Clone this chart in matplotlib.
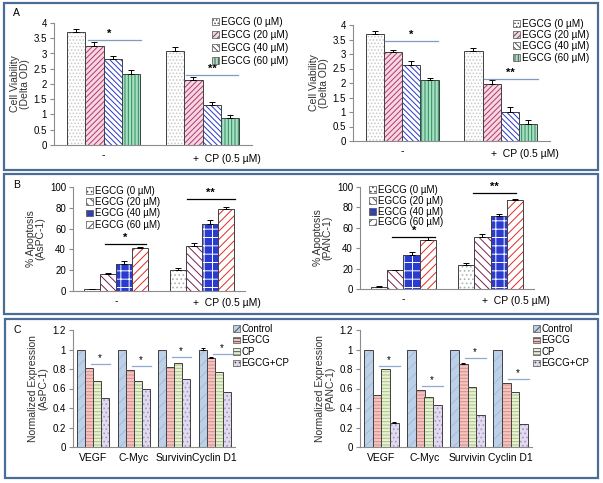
import numpy as np
import matplotlib
matplotlib.use('Agg')
import matplotlib.pyplot as plt
from matplotlib.patches import Patch, Rectangle
from matplotlib.transforms import blended_transform_factory

plt.rcParams['font.family'] = ['Liberation Sans', 'DejaVu Sans']
plt.rcParams['hatch.linewidth'] = 0.7

W, H = 603, 483

# ---- data ----
egcg_labels = ['EGCG (0 µM)', 'EGCG (20 µM)', 'EGCG (40 µM)', 'EGCG (60 µM)']
groups_ab = ['-', '+  CP (0.5 µM)']

via_aspc = np.array([[3.70, 3.25, 2.83, 2.33],
                     [3.08, 2.12, 1.30, 0.90]])
via_aspc_err = np.array([[0.10, 0.12, 0.10, 0.13],
                         [0.13, 0.10, 0.12, 0.08]])
via_panc = np.array([[3.70, 3.08, 2.63, 2.10],
                     [3.10, 1.95, 1.00, 0.60]])
via_panc_err = np.array([[0.10, 0.06, 0.12, 0.07],
                         [0.10, 0.14, 0.16, 0.13]])

apo_aspc = np.array([[2.0, 16.0, 26.0, 41.5],
                     [20.5, 43.0, 64.0, 79.0]])
apo_aspc_err = np.array([[0.4, 1.0, 3.0, 1.0],
                         [1.8, 3.0, 4.0, 1.8]])
apo_panc = np.array([[2.0, 18.5, 33.0, 48.0],
                     [24.0, 51.0, 72.0, 87.0]])
apo_panc_err = np.array([[0.5, 0.6, 2.8, 2.5],
                         [1.2, 3.0, 2.0, 1.5]])

genes = ['VEGF', 'C-Myc', 'Survivin', 'Cyclin D1']
expr_labels = ['Control', 'EGCG', 'CP', 'EGCG+CP']
expr_aspc = np.array([[1.0, 1.0, 1.0, 1.0],
                      [0.81, 0.79, 0.82, 0.91],
                      [0.68, 0.68, 0.86, 0.77],
                      [0.50, 0.59, 0.70, 0.56]])
expr_aspc_err = np.array([[0, 0, 0, 0.02],
                          [0, 0, 0, 0.01],
                          [0, 0, 0, 0],
                          [0, 0, 0, 0]])
expr_panc = np.array([[1.0, 1.0, 1.0, 1.0],
                      [0.53, 0.58, 0.85, 0.66],
                      [0.80, 0.51, 0.62, 0.56],
                      [0.25, 0.43, 0.33, 0.24]])
expr_panc_err = np.array([[0, 0, 0, 0],
                          [0, 0, 0.01, 0],
                          [0, 0, 0, 0],
                          [0.01, 0, 0, 0]])
sig_aspc = [0.85, 0.83, 0.92, 0.95]
sig_panc = [0.83, 0.63, 0.91, 0.70]

# face, hatch colour, hatch
style_a = [('white', '#c8c8c8', '.....'),
           ('#f6d6e2', '#b03a6a', '//////'),
           ('white', '#2838c8', '\\\\\\\\\\\\'),
           ('#a8e0c4', '#2a8a5a', '|||||')]
style_b = [('white', '#b0b0b0', '....'),
           ('white', '#7a2050', '\\\\\\\\'),
           ('#2a3cd0', 'white', '++'),
           ('white', '#e02828', '////')]
style_c = [('#bcd0e8', '#a4bcdc', '///'),
           ('#f4c4c0', '#d88c88', '-----'),
           ('#e8f0d6', '#a8c47c', '-----'),
           ('#e2daee', '#a898c8', '....')]


def make_ax(fig, l, r, t, b):
    return fig.add_axes([l / W, 1 - b / H, (r - l) / W, (b - t) / H])


def style_axis(ax):
    for s in ['top', 'right']:
        ax.spines[s].set_visible(False)
    for s in ['left', 'bottom']:
        ax.spines[s].set_color('#8c8c8c')
        ax.spines[s].set_linewidth(0.8)
    ax.tick_params(axis='y', labelsize=7, length=3, color='#8c8c8c', pad=2)
    ax.tick_params(axis='x', length=0, labelsize=7.5, pad=4)


def hbar(ax, x, h, w, st):
    fc, hc, hatch = st
    ax.bar(x, h, w, color=fc, edgecolor=hc, hatch=hatch, lw=0)
    ax.bar(x, h, w, fill=False, edgecolor='#404040', lw=0.7)


def legend(fig, ax, labels, styles, x, y, spacing, fs=7.2):
    hs = [Patch(facecolor=fc, edgecolor=hc, hatch=hatch, lw=0.5) for fc, hc, hatch in styles]
    lg = ax.legend(hs, labels, loc='upper left', bbox_to_anchor=(x / W, 1 - y / H),
                   bbox_transform=fig.transFigure, frameon=False, fontsize=fs,
                   handlelength=0.7, handleheight=0.7, handletextpad=0.2,
                   labelspacing=spacing, borderpad=0, borderaxespad=0)
    for p in lg.get_patches():
        p.set_edgecolor('#505050')


def dose_panel(fig, rect, vals, errs, styles, ylim, yticks, ylab, sigs, sigcolor, leg):
    ax = make_ax(fig, *rect)
    style_axis(ax)
    w = 0.185
    x0 = np.arange(2)
    for i in range(4):
        x = x0 + (i - 1.5) * w
        hbar(ax, x, vals[:, i], w, styles[i])
        ax.errorbar(x, vals[:, i], yerr=[np.zeros(2), errs[:, i]], fmt='none',
                    ecolor='black', elinewidth=0.7, capsize=2, capthick=0.7)
    ax.set_xlim(-0.5, 1.5)
    ax.set_ylim(*ylim)
    ax.set_yticks(yticks)
    ax.set_yticklabels([('%g' % v) for v in yticks])
    ax.set_xticks([0])
    ax.set_xticklabels([groups_ab[0]])
    tr = blended_transform_factory(ax.transData, ax.transAxes)
    ax.text(0.9, -0.07, groups_ab[1], transform=tr, fontsize=7.5, ha='left', va='top')
    ax.set_ylabel(ylab, fontsize=7.5, color='#303030', labelpad=3, linespacing=1.0)
    for x1, x2, y, txt, xs in sigs:
        ax.plot([x1, x2], [y, y], color=sigcolor, lw=0.9)
        ax.text(xs, y + (ylim[1] - ylim[0]) * 0.01, txt, ha='center', va='bottom',
                fontsize=8, fontweight='bold')
    legend(fig, ax, egcg_labels, styles, leg[0], leg[1], leg[2], leg[3])
    return ax


def expr_panel(fig, rect, vals, errs, sig, ylab, leg):
    ax = make_ax(fig, *rect)
    style_axis(ax)
    w = 0.2
    x0 = np.arange(4)
    for i in range(4):
        x = x0 + (i - 1.5) * w
        hbar(ax, x, vals[i], w, style_c[i])
        if errs[i].any():
            m = errs[i] > 0
            ax.errorbar(x[m], vals[i][m], yerr=[np.zeros(m.sum()), errs[i][m]], fmt='none',
                        ecolor='black', elinewidth=0.7, capsize=1.5, capthick=0.7)
    for k in range(4):
        ax.plot([k - 0.05, k + 0.42], [sig[k], sig[k]], color='#8eaad0', lw=0.9)
        ax.text(k + 0.17, sig[k] + 0.01, '*', ha='center', va='bottom', fontsize=7)
    ax.set_xlim(-0.5, 3.5)
    ax.set_ylim(0, 1.2)
    yt = [0, 0.2, 0.4, 0.6, 0.8, 1, 1.2]
    ax.set_yticks(yt)
    ax.set_yticklabels([('%g' % v) for v in yt])
    ax.set_xticks(x0)
    ax.set_xticklabels(genes)
    ax.set_ylabel(ylab, fontsize=7.5, color='#303030', labelpad=3, linespacing=1.0)
    legend(fig, ax, expr_labels, style_c, leg[0], leg[1], 0.15, 7)
    return ax


fig = plt.figure(figsize=(W / 100, H / 100), dpi=100)

# frames
for (l, t, r, b) in [(4, 3, 598, 170), (4, 174, 598, 314), (5, 319, 598, 478)]:
    fig.patches.append(Rectangle((l / W, 1 - b / H), (r - l) / W, (b - t) / H,
                                 transform=fig.transFigure, fill=False,
                                 edgecolor='#4a6d96', lw=1.6))

# A
dose_panel(fig, (54, 252, 23, 145), via_aspc, via_aspc_err, style_a, (0, 4),
           [0, 0.5, 1, 1.5, 2, 2.5, 3, 3.5, 4], 'Cell Viability\n(Delta OD)',
           [(-0.16, 0.38, 3.45, '*', 0.06), (0.83, 1.36, 2.3, '**', 1.1)], '#7f9cc4',
           (212, 17, 0.3, 7.2))
dose_panel(fig, (353, 550, 25, 141), via_panc, via_panc_err, style_a, (0, 4),
           [0, 0.5, 1, 1.5, 2, 2.5, 3, 3.5, 4], 'Cell Viability\n(Delta OD)',
           [(-0.18, 0.36, 3.45, '*', 0.09), (0.83, 1.38, 2.15, '**', 1.1)], '#7f9cc4',
           (513, 19, 0.12, 7.2))

# B
dose_panel(fig, (73, 245, 187, 291), apo_aspc, apo_aspc_err, style_b, (0, 100),
           [0, 20, 40, 60, 80, 100], '% Apoptosis\n(AsPC-1)',
           [(-0.13, 0.35, 45, '*', 0.11), (0.82, 1.38, 88.5, '**', 1.1)], 'black',
           (86, 186, 0.12, 7))
dose_panel(fig, (360, 534, 187, 289), apo_panc, apo_panc_err, style_b, (0, 100),
           [0, 20, 40, 60, 80, 100], '% Apoptosis\n(PANC-1)',
           [(-0.13, 0.36, 51, '*', 0.12), (0.8, 1.29, 94, '**', 1.05)], 'black',
           (369, 185, 0.08, 7))

# C
expr_panel(fig, (73, 235, 330, 447), expr_aspc, expr_aspc_err, sig_aspc,
           'Normalized Expression\n(AsPC-1)', (233, 324))
expr_panel(fig, (360, 532, 330, 447), expr_panc, expr_panc_err, sig_panc,
           'Normalized Expression\n(PANC-1)', (533, 324))

for lab, x, y in [('A', 13, 13), ('B', 13, 185), ('C', 13, 330)]:
    fig.text(x / W, 1 - y / H, lab, fontsize=7.5, ha='left', va='center')

fig.savefig('out.png', dpi=100)
